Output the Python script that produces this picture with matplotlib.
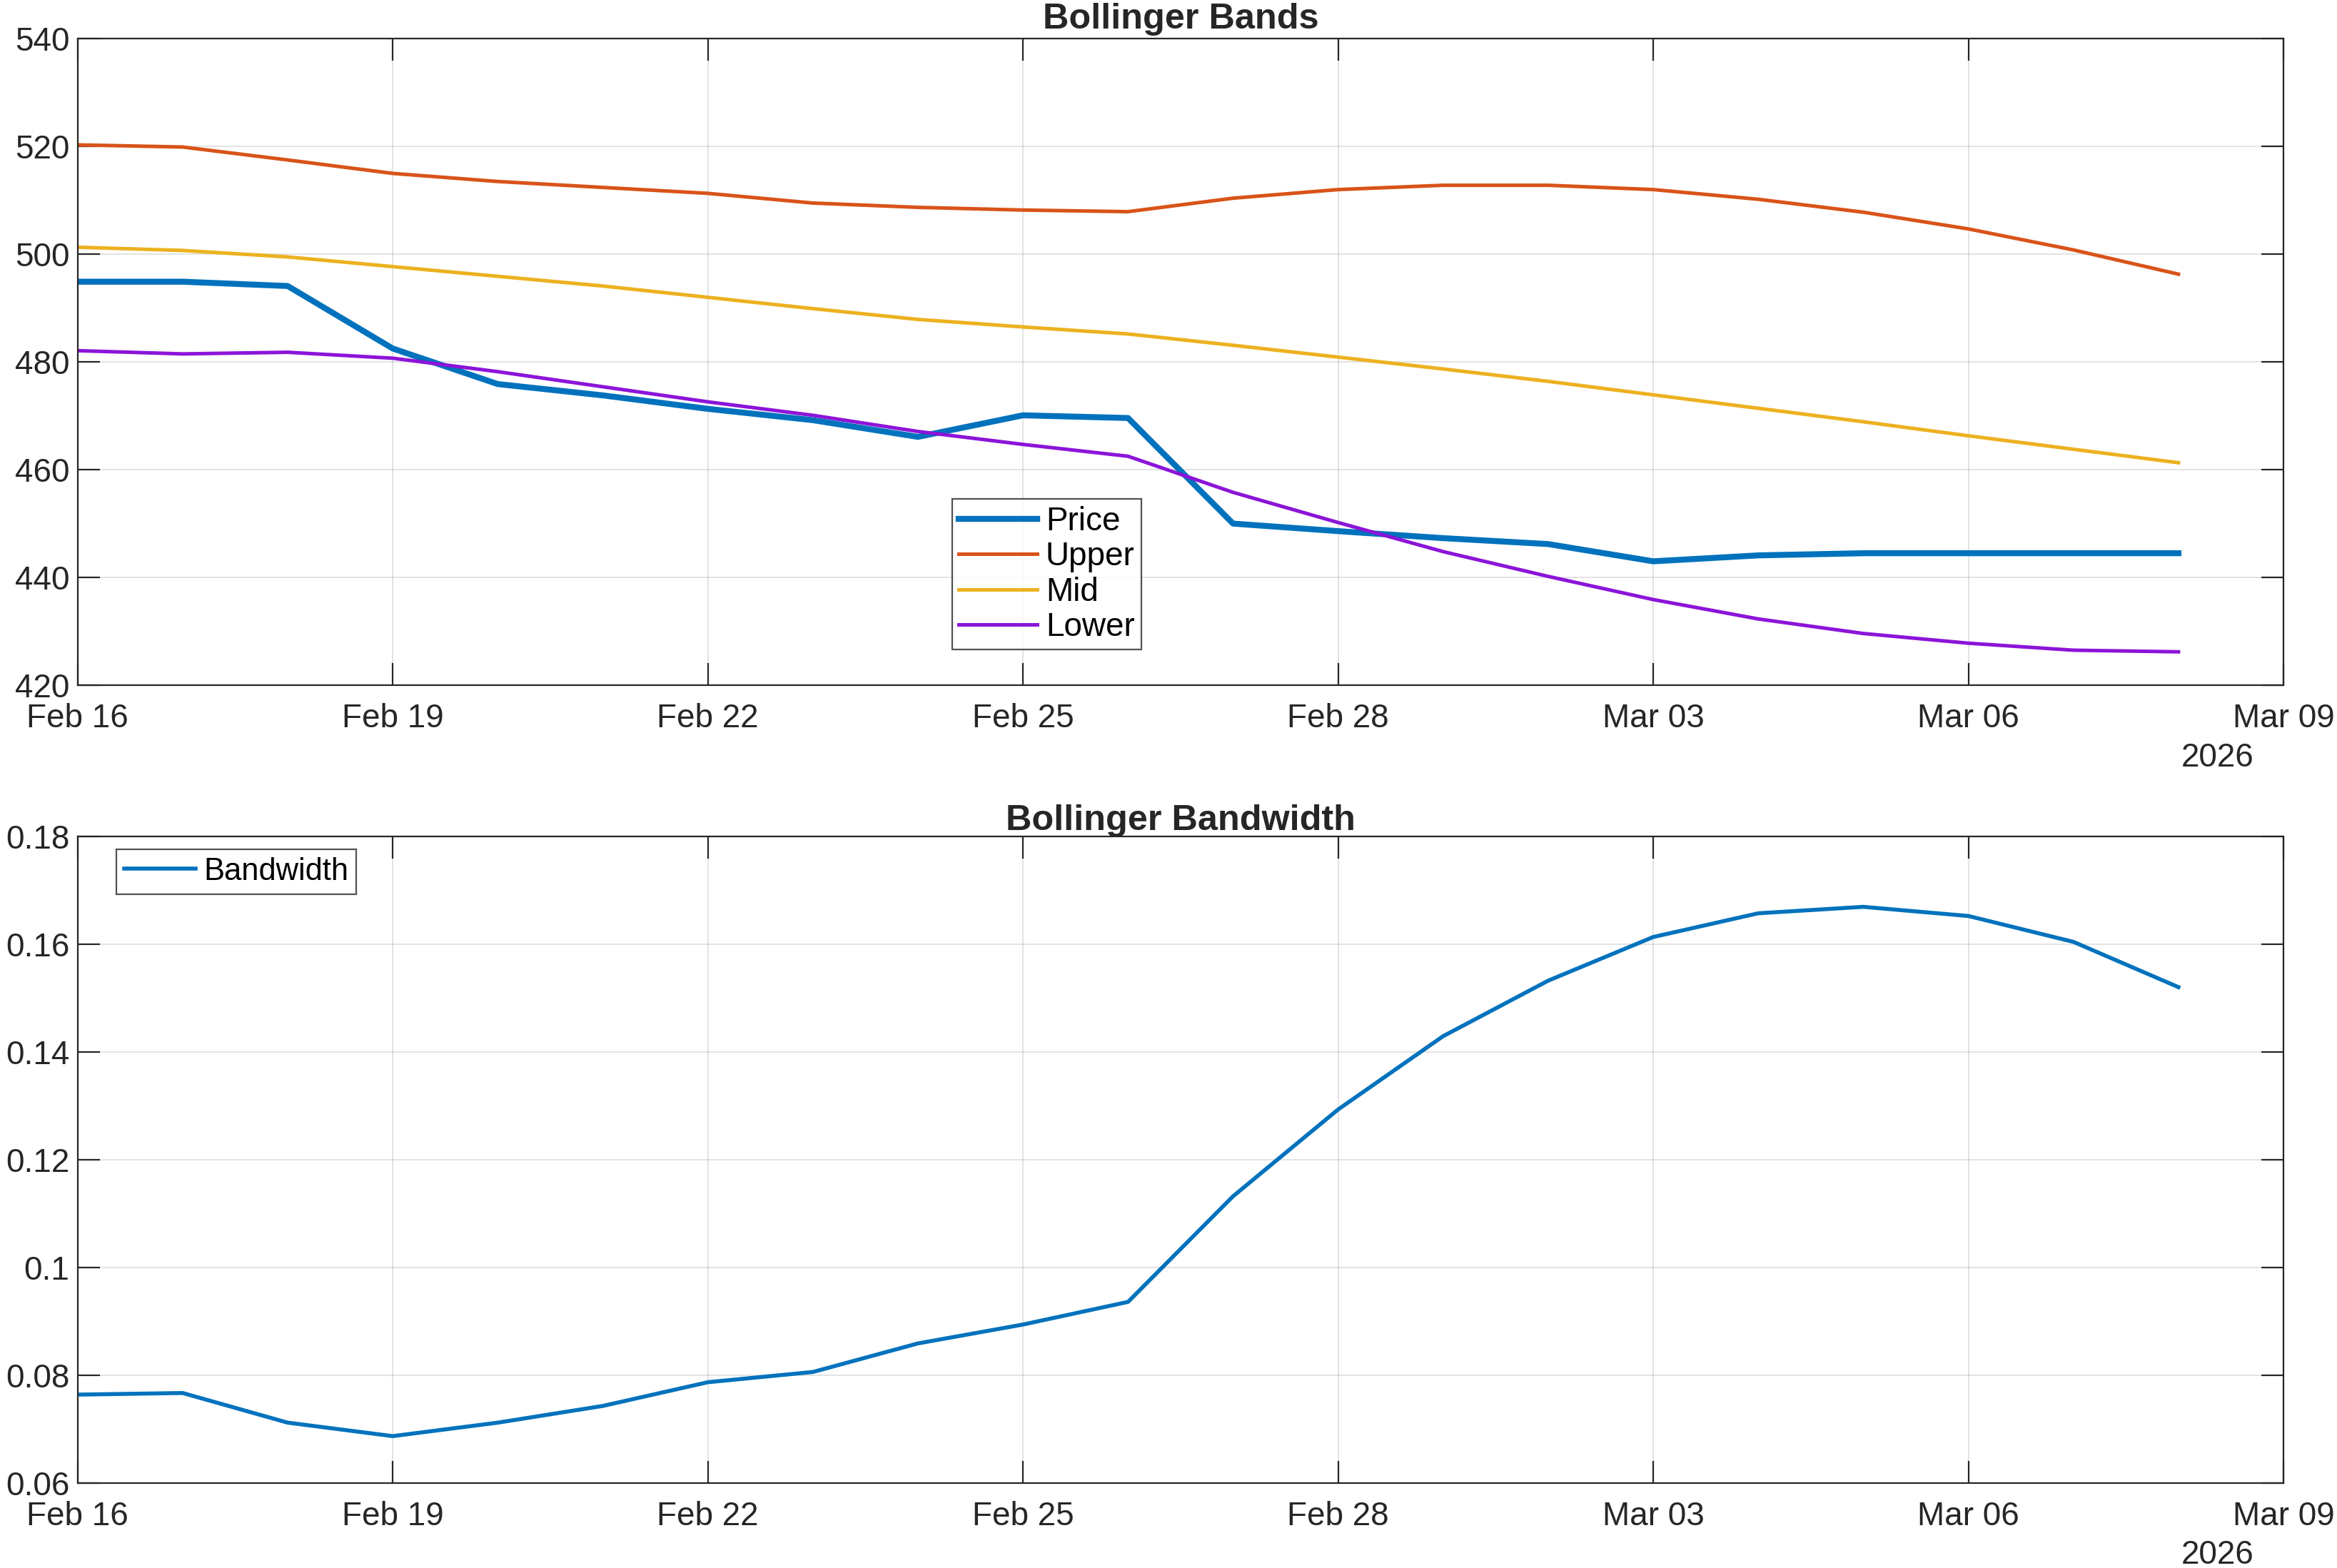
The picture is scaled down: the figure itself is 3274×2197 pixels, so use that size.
import numpy as np
import pandas as pd
import matplotlib
matplotlib.use("Agg")
import matplotlib.pyplot as plt
import matplotlib.dates as mdates

plt.rcParams['font.family'] = ['Liberation Sans', 'DejaVu Sans']

# data
dates = pd.date_range("2026-02-16", "2026-03-08", freq="D")
price = [494.9, 494.9, 494.1, 482.5, 475.9, 473.8, 471.3, 469.2, 466.1, 470.1, 469.6,
         450.0, 448.6, 447.3, 446.2, 443.0, 444.1, 444.5, 444.5, 444.5, 444.5]
upper = [520.3, 519.9, 517.5, 515.0, 513.5, 512.4, 511.3, 509.5, 508.7, 508.2, 507.9,
         510.4, 512.0, 512.8, 512.8, 512.0, 510.2, 507.8, 504.7, 500.8, 496.3]
mid = [501.3, 500.7, 499.5, 497.7, 495.9, 494.1, 492.0, 489.9, 487.9, 486.5, 485.2,
       483.1, 480.9, 478.7, 476.4, 473.9, 471.4, 468.9, 466.3, 463.8, 461.3]
lower = [482.1, 481.5, 481.8, 480.7, 478.2, 475.4, 472.6, 470.1, 467.1, 464.7, 462.5,
         455.8, 450.2, 444.8, 440.2, 435.9, 432.3, 429.6, 427.8, 426.5, 426.2]
bandwidth = [0.0764, 0.0767, 0.0712, 0.0687, 0.0712, 0.0743, 0.0787, 0.0806, 0.0859,
             0.0894, 0.0936, 0.1132, 0.1293, 0.1429, 0.1532, 0.1613, 0.1657, 0.1669,
             0.1652, 0.1604, 0.1520]

xlim = (pd.Timestamp("2026-02-16"), pd.Timestamp("2026-03-09"))
xticks = pd.date_range("2026-02-16", "2026-03-09", freq="3D")

C_BLUE = "#0072BD"
C_ORANGE = "#D95319"
C_YELLOW = "#EDB120"
C_PURPLE = "#8C14D8"
AXC = "#262626"
FS = 16.5

fig = plt.figure(figsize=(16.37, 10.985), dpi=200, facecolor="white")
ax1 = fig.add_axes([0.0332, 0.563, 0.9439, 0.4123])
ax2 = fig.add_axes([0.0332, 0.0542, 0.9439, 0.4125])


def style(ax, title, ylim, yticks, ylabels, title_pad):
    ax.set_xlim(xlim)
    ax.set_ylim(ylim)
    ax.set_xticks(xticks)
    ax.xaxis.set_major_formatter(mdates.DateFormatter("%b %d"))
    ax.set_yticks(yticks)
    ax.set_yticklabels(ylabels)
    ax.grid(True, color="#000000", alpha=0.13, linewidth=0.6)
    ax.set_axisbelow(True)
    for s in ax.spines.values():
        s.set_color(AXC)
        s.set_linewidth(0.8)
    ax.tick_params(direction="in", length=11, width=0.8, color=AXC, labelcolor=AXC,
                   labelsize=FS, top=True, right=True)
    ax.tick_params(axis="x", pad=9)
    ax.tick_params(axis="y", pad=4)
    ax.set_title(title, fontsize=FS * 1.1, fontweight="bold", color=AXC, pad=title_pad)
    ax.text(0.970, -0.112, "2026", transform=ax.transAxes, ha="center", va="center",
            fontsize=FS, color=AXC)


ax1.plot(dates, price, color=C_BLUE, linewidth=3.0, label="Price")
ax1.plot(dates, upper, color=C_ORANGE, linewidth=1.8, label="Upper")
ax1.plot(dates, mid, color=C_YELLOW, linewidth=1.8, label="Mid")
ax1.plot(dates, lower, color=C_PURPLE, linewidth=1.8, label="Lower")
style(ax1, "Bollinger Bands", (420, 540), np.arange(420, 541, 20),
      [str(v) for v in range(420, 541, 20)], 5)
leg1 = ax1.legend(loc="lower left", bbox_to_anchor=(0.3966, 0.055), fontsize=FS,
                  frameon=True, fancybox=False, edgecolor=AXC, handlelength=2.4,
                  handletextpad=0.25, borderpad=0.2, labelspacing=0.12, borderaxespad=0)
leg1.get_frame().set_linewidth(0.8)

ax2.plot(dates, bandwidth, color=C_BLUE, linewidth=2.0, label="Bandwidth")
style(ax2, "Bollinger Bandwidth", (0.06, 0.18), np.arange(0.06, 0.181, 0.02),
      ["0.06", "0.08", "0.1", "0.12", "0.14", "0.16", "0.18"], 3)
leg2 = ax2.legend(loc="upper left", bbox_to_anchor=(0.0176, 0.98), fontsize=FS * 0.95,
                  frameon=True, fancybox=False, edgecolor=AXC, handlelength=2.3,
                  handletextpad=0.25, borderpad=0.25, borderaxespad=0)
leg2.get_frame().set_linewidth(0.8)

fig.savefig("out.png", dpi=200, facecolor="white")
